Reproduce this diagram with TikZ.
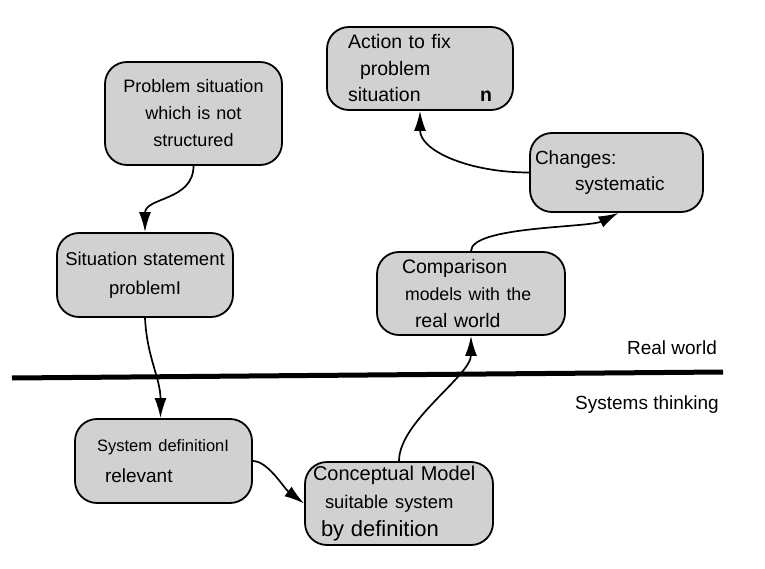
\documentclass[tikz,border=0pt]{standalone}
\usepackage{fontspec}
\setmainfont{Liberation Sans}
\usetikzlibrary{arrows.meta}
\tikzset{box/.style={draw,line width=1.8pt,fill=black!18,rounded corners=22pt,inner ysep=0pt},
  link/.style={line width=1.7pt,-{Latex[length=20pt,width=12pt]}}}

\begin{document}
\begin{tikzpicture}[x=1pt,y=-1pt]
\useasboundingbox (0,0) rectangle (765,569);
\node [box,align=center,text width=167pt,inner xsep=5pt,minimum height=103pt,font=\fontsize{18}{27}\selectfont] (prob) at (193.5,113.5) {Problem situation\\which is not\\structured};
\node [box,align=center,text width=166pt,inner xsep=5pt,minimum height=84pt,font=\fontsize{18.5}{29}\selectfont] (stat) at (145,275) {Situation statement\\problemI};
\node [box,align=left,text width=144pt,inner xsep=21pt,minimum height=83pt,font=\fontsize{19.5}{26.5}\selectfont] (act) at (420,68.5) {Action to fix\\\hspace*{12pt}problem\\situation\hfill\textbf{n}};
\node [box,align=left,text width=163pt,inner xsep=5pt,minimum height=79pt,font=\fontsize{19}{26}\selectfont] (chg) at (616.5,172.5) {Changes:\\\hspace*{40pt}systematic};
\node [box,align=left,text width=138pt,inner xsep=25pt,minimum height=83pt,font=\fontsize{19.5}{27}\selectfont] (cmp) at (471,293.5) {Comparison\\\hspace*{3pt}{\fontsize{17.7}{27}\selectfont models with the}\\\hspace*{13pt}real world};
\node [box,align=left,text width=133pt,inner xsep=22pt,minimum height=84pt,font=\fontsize{19}{31}\selectfont] (sysdef) at (163.5,461) {{\fontsize{16.5}{31}\selectfont System definitionI}\\\hspace*{8pt}relevant};
\node [box,align=left,text width=172pt,inner xsep=8pt,minimum height=83pt,font=\fontsize{20}{28}\selectfont] (cm) at (399,503.5) {Conceptual Model\\\hspace*{12pt}{\fontsize{18.4}{28}\selectfont suitable system}\\\hspace*{8pt}{\fontsize{22}{28}\selectfont by definition}};
\draw [line width=5pt] (12,378) -- (723,372);
\node [font=\fontsize{19}{22}\selectfont] (real) at (672,348) {Real world};
\node [font=\fontsize{19}{22}\selectfont] (syst) at (647,405) {Systems thinking};
\draw [link] (prob.south) .. controls +(0,35) and +(0,-35) .. (stat.north);
\draw [link] (stat.south) .. controls +(2,40) and +(0,-40) .. ([xshift=-3pt]sysdef.north);
\draw [link] (sysdef.east) .. controls +(15,0) and +(-20,-15) .. (cm.west);
\draw [link] (cm.north) .. controls +(0,-40) and +(0,40) .. (cmp.south);
\draw [link] (cmp.north) .. controls +(0,-25) and +(-30,15) .. ([xshift=2pt]chg.south);
\draw [link] (chg.west) .. controls +(-60,0) and +(0,40) .. (act.south);
\end{tikzpicture}
\end{document}
